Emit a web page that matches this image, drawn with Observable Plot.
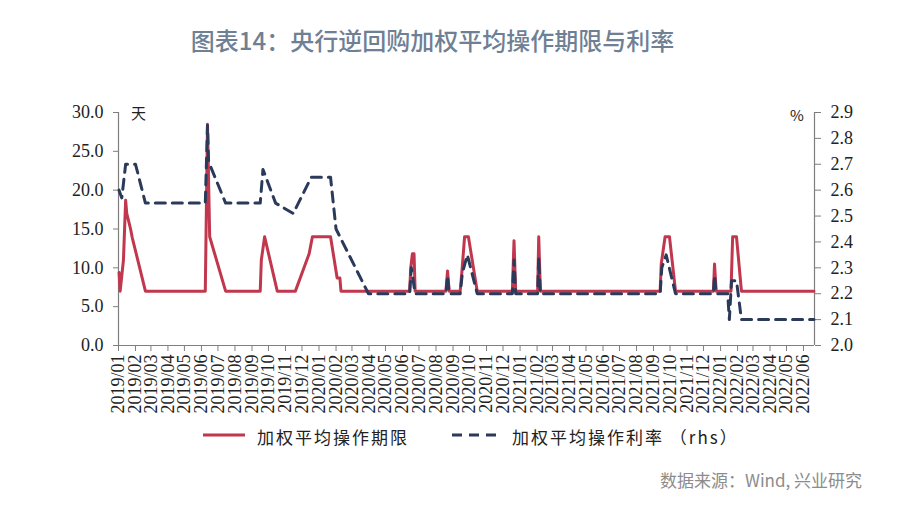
<!DOCTYPE html>
<html><head><meta charset="utf-8">
<script src="https://cdn.jsdelivr.net/npm/d3@7"></script>
<script src="https://cdn.jsdelivr.net/npm/@observablehq/plot@0.6"></script>
<style>
body{margin:0;background:#fff;}
#wrap{position:relative;width:900px;height:512px;overflow:hidden;background:#fff;}
#title{position:absolute;left:0;width:865px;top:25px;text-align:center;font-family:"Noto Sans CJK SC","Noto Sans",sans-serif;font-size:24px;line-height:30px;color:#6f7f94;font-weight:500;}
.unit{position:absolute;font-family:"Noto Sans CJK SC","Liberation Serif",serif;font-size:15px;color:#222;}
#legend{position:absolute;top:424px;left:203px;font-family:"Noto Sans CJK SC",sans-serif;font-size:17px;color:#222;letter-spacing:2px;white-space:nowrap;}
#legend span.item{position:absolute;top:0;white-space:nowrap;}
#source{position:absolute;right:38px;top:467px;font-family:"Noto Sans CJK SC","Noto Sans",sans-serif;font-size:17px;color:#8c8c8c;}
</style></head>
<body><div id="wrap">
<div id="title">图表14：央行逆回购加权平均操作期限与利率</div>
<div id="chart"></div>
<div class="unit" style="left:131px;top:102px;">天</div>
<div class="unit" style="left:790px;top:104px;">%</div>
<div id="legend">
  <svg width="560" height="24" style="position:absolute;left:0;top:0;overflow:visible">
    <line x1="0" x2="42" y1="11" y2="11" stroke="#c0374e" stroke-width="3"/>
    <line x1="249" x2="298" y1="11" y2="11" stroke="#2b3a5a" stroke-width="3" stroke-dasharray="10,7"/>
  </svg>
  <span class="item" style="left:54px;">加权平均操作期限</span>
  <span class="item" style="left:309px;">加权平均操作利率 （rhs）</span>
</div>
<div id="source">数据来源：Wind, 兴业研究</div>
</div>
<script>
// 加权平均操作期限 (天)
const termDates = ["2019-01-02","2019-01-04","2019-01-10","2019-01-14","2019-01-16","2019-01-23","2019-01-26","2019-02-19",
  "2019-06-08","2019-06-12","2019-06-16","2019-07-15","2019-09-16","2019-09-18","2019-09-24","2019-10-17",
  "2019-11-19","2019-12-14","2019-12-20","2020-01-22","2020-02-03","2020-02-08","2020-02-10",
  "2020-06-14","2020-06-16","2020-06-19","2020-06-22","2020-06-24","2020-08-19","2020-08-22","2020-08-25",
  "2020-09-14","2020-09-17","2020-09-22","2020-09-29","2020-10-15","2020-12-18","2020-12-21","2020-12-24",
  "2021-02-02","2021-02-04","2021-02-07","2021-09-13","2021-09-15","2021-09-22","2021-09-30","2021-10-11",
  "2021-12-19","2021-12-21","2021-12-24","2022-01-20","2022-01-23","2022-01-30","2022-02-08","2022-06-20"];
const termValues = [9.4,7,11,18.7,17,15,13.9,7,
  7,28.5,14,7,7,11,14,7,
  7,11.8,14,14,8.7,8.7,7,
  7,10,11.8,11.8,7,7,9.6,7,
  7,9.4,14,14,7,7,13.5,7,
  7,14,7,7,10.5,14,14,7,
  7,10.5,7,7,14,14,7,7];

// 加权平均操作利率 (%, rhs)
const rateDates = ["2019-01-02","2019-01-07","2019-01-14","2019-02-01","2019-02-19","2019-06-08","2019-06-12","2019-06-14",
  "2019-07-15","2019-09-16","2019-09-21","2019-10-14","2019-11-15","2019-12-18","2020-01-22","2020-02-01","2020-03-31",
  "2020-06-14","2020-06-17","2020-06-24","2020-08-19","2020-08-22","2020-08-25","2020-09-14","2020-09-18","2020-09-27",
  "2020-10-15","2020-12-18","2020-12-21","2020-12-24","2021-02-02","2021-02-04","2021-02-07","2021-09-13","2021-09-16",
  "2021-09-24","2021-10-11","2021-12-19","2021-12-21","2021-12-24","2022-01-14","2022-01-17","2022-01-21","2022-01-30",
  "2022-02-08","2022-06-20"];
const rateValues = [2.60,2.57,2.70,2.70,2.55,2.55,2.85,2.71,
  2.55,2.55,2.68,2.55,2.51,2.65,2.65,2.45,2.20,
  2.20,2.30,2.20,2.20,2.27,2.20,2.20,2.28,2.35,
  2.20,2.20,2.33,2.20,2.20,2.34,2.20,2.20,2.30,
  2.35,2.20,2.20,2.27,2.20,2.20,2.10,2.25,2.25,
  2.10,2.10];

const xStart = "2019-01-01", xEnd = "2022-06-21";
const leftTicks = [0,5,10,15,20,25,30];
const rightTicks = [2.0,2.1,2.2,2.3,2.4,2.5,2.6,2.7,2.8,2.9];
const rightMin = 2.0, rightMax = 2.9, leftMax = 30;

const parse = d3.utcParse("%Y-%m-%d");
const term = termDates.map((d,i)=>({date:parse(d), v:termValues[i]}));
const rate = rateDates.map((d,i)=>({date:parse(d), r:rateValues[i]}));
const toLeft = r => (r - rightMin) / (rightMax - rightMin) * leftMax;
const fromLeft = v => rightMin + v / leftMax * (rightMax - rightMin);
const x0 = parse(xStart), x1 = parse(xEnd);
const monthTicks = d3.utcMonth.range(x0, d3.utcDay.offset(x1, -15));

const axisColor = "#7f7f7f";
const serif = "Liberation Serif, Times New Roman, serif";

const chart = Plot.plot({
  width: 900, height: 512,
  marginTop: 112, marginBottom: 167, marginLeft: 118, marginRight: 86,
  style: {fontFamily: serif, fontSize: "18px", color: "#222", background: "transparent", overflow: "visible"},
  x: {type: "utc", domain: [x0, x1]},
  y: {domain: [0, leftMax]},
  marks: [
    Plot.axisX(monthTicks, {tickFormat: d3.utcFormat("%Y/%m"), tickRotate: -90, tickSize: 6, tickPadding: 3, fontSize: 18, stroke: axisColor, label: null}),
    Plot.axisY(leftTicks, {anchor: "left", tickFormat: d => d.toFixed(1), tickSize: 5, tickPadding: 10, fontSize: 18, stroke: axisColor, label: null}),
    Plot.axisY(rightTicks.map(toLeft), {anchor: "right", tickFormat: d => fromLeft(d).toFixed(1), tickSize: 6, tickPadding: 10, fontSize: 18, stroke: axisColor, label: null}),
    Plot.ruleX([x0], {stroke: axisColor, strokeWidth: 1.2}),
    Plot.ruleX([x1], {stroke: axisColor, strokeWidth: 1.2}),
    Plot.ruleY([0], {stroke: axisColor, strokeWidth: 1.2}),
    Plot.line(term, {x: "date", y: "v", stroke: "#c0374e", strokeWidth: 3, curve: "linear"}),
    Plot.line(rate, {x: "date", y: d => toLeft(d.r), stroke: "#2b3a5a", strokeWidth: 3, strokeDasharray: "10,7", curve: "linear"})
  ]
});
chart.style.position = "absolute";
chart.style.left = "0px";
chart.style.top = "0px";
document.getElementById("chart").appendChild(chart);
</script>
</body></html>
